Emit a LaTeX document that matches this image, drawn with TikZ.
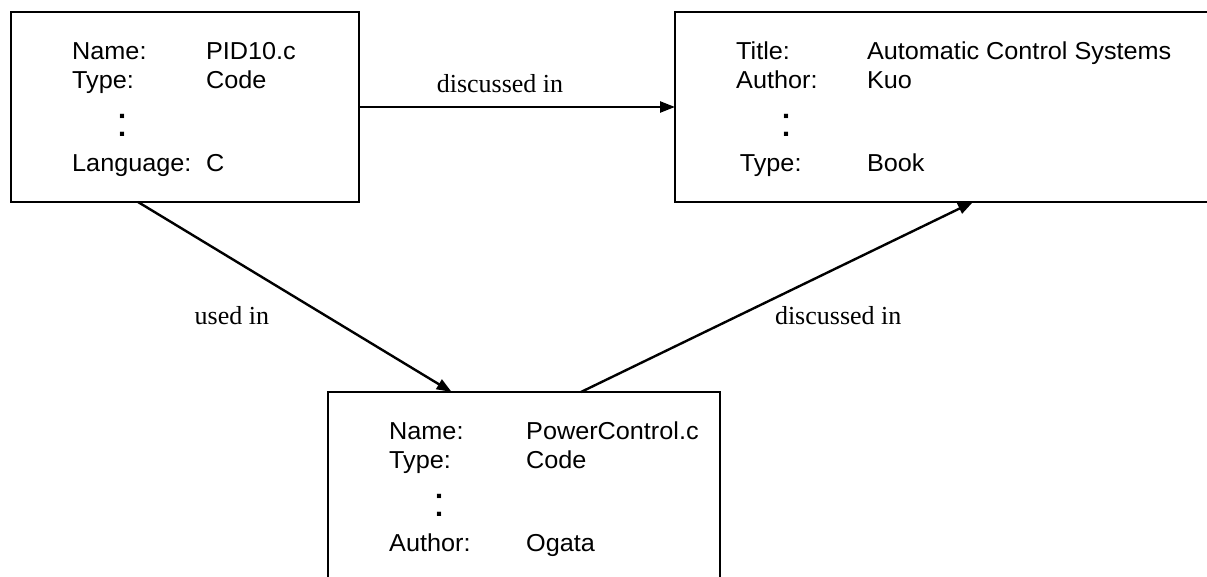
\documentclass[tikz,border=0pt]{standalone}
\usepackage{fontspec}
\setmainfont{Liberation Serif}
\setsansfont{Liberation Sans}
\usepackage{array}
\usetikzlibrary{arrows.meta,positioning}
\tikzset{%
    >={Triangle[length=15pt,width=11pt]},
    obj/.style={draw,line width=1.6pt,inner sep=0pt,outer sep=0pt},
    fields/.style={anchor=base west,inner sep=0pt,xscale=1.03,transform shape,
        font=\sffamily\fontsize{24.5}{29.2}\selectfont},
    rel/.style={inner sep=0pt,
        font=\rmfamily\fontsize{26}{30}\selectfont},
    arr/.style={line width=2.4pt},
    txt/.style={shift={(61,-47.5)}},
    sh2w/.style={shift={(-47,0)}},
    sh2ww/.style={shift={(-72.3,0)}},
    sh2e/.style={shift={(28,0)}},
    sh2ee/.style={shift={(57,0)}}
}
\newcommand{\vdts}{\hspace{43pt}{\fontsize{42}{42}\selectfont :}}

\begin{document}
\begin{tikzpicture}[x=1pt,y=1pt]
            \useasboundingbox (0,0) rectangle (1207,576);
            \node [obj,minimum width=348,minimum height=190] (code1) at (185,469) {};
            \node [obj,minimum width=540,minimum height=190] (book) at (945,469) {};
            \node [obj,minimum width=392,minimum height=214] (code2) at (524,77) {};
            %%%%%
            \node [fields] (code1-txt) at ([txt]code1.north west) {%
            \begin{tabular}[t]{@{}p{130pt}@{}l@{}}
            Name: & PID10.c\\
            Type: & Code\\[17.3pt]
            \vdts & \\[5.3pt]
            Language: & C
            \end{tabular}};
            \node [fields] (book-txt) at ([txt]book.north west) {%
            \begin{tabular}[t]{@{}p{127pt}@{}l@{}}
            Title: & Automatic Control Systems\\
            Author: & Kuo\\[17.3pt]
            \vdts & \\[5.3pt]
            \hspace{3.5pt}Type: & Book
            \end{tabular}};
            \node [fields] (code2-txt) at ([txt]code2.north west) {%
            \begin{tabular}[t]{@{}p{133pt}@{}l@{}}
            Name: & PowerControl.c\\
            Type: & Code\\[17.3pt]
            \vdts & \\[5.3pt]
            Author: & Ogata
            \end{tabular}};
            %%%%%
            \draw [->,arr] (code1) -- node[above=13.4pt,xshift=-17pt,rel]{discussed in} (book);
            \draw [->,arr] ([sh2w]code1.south) -- node[pos=.6,left=56pt,rel]{used in} ([sh2ww]code2.north);
            \draw [->,arr] ([sh2ee]code2.north) -- node[pos=.4,right=36pt,rel]{discussed in} ([sh2e]book.south);
\end{tikzpicture}
\end{document}
